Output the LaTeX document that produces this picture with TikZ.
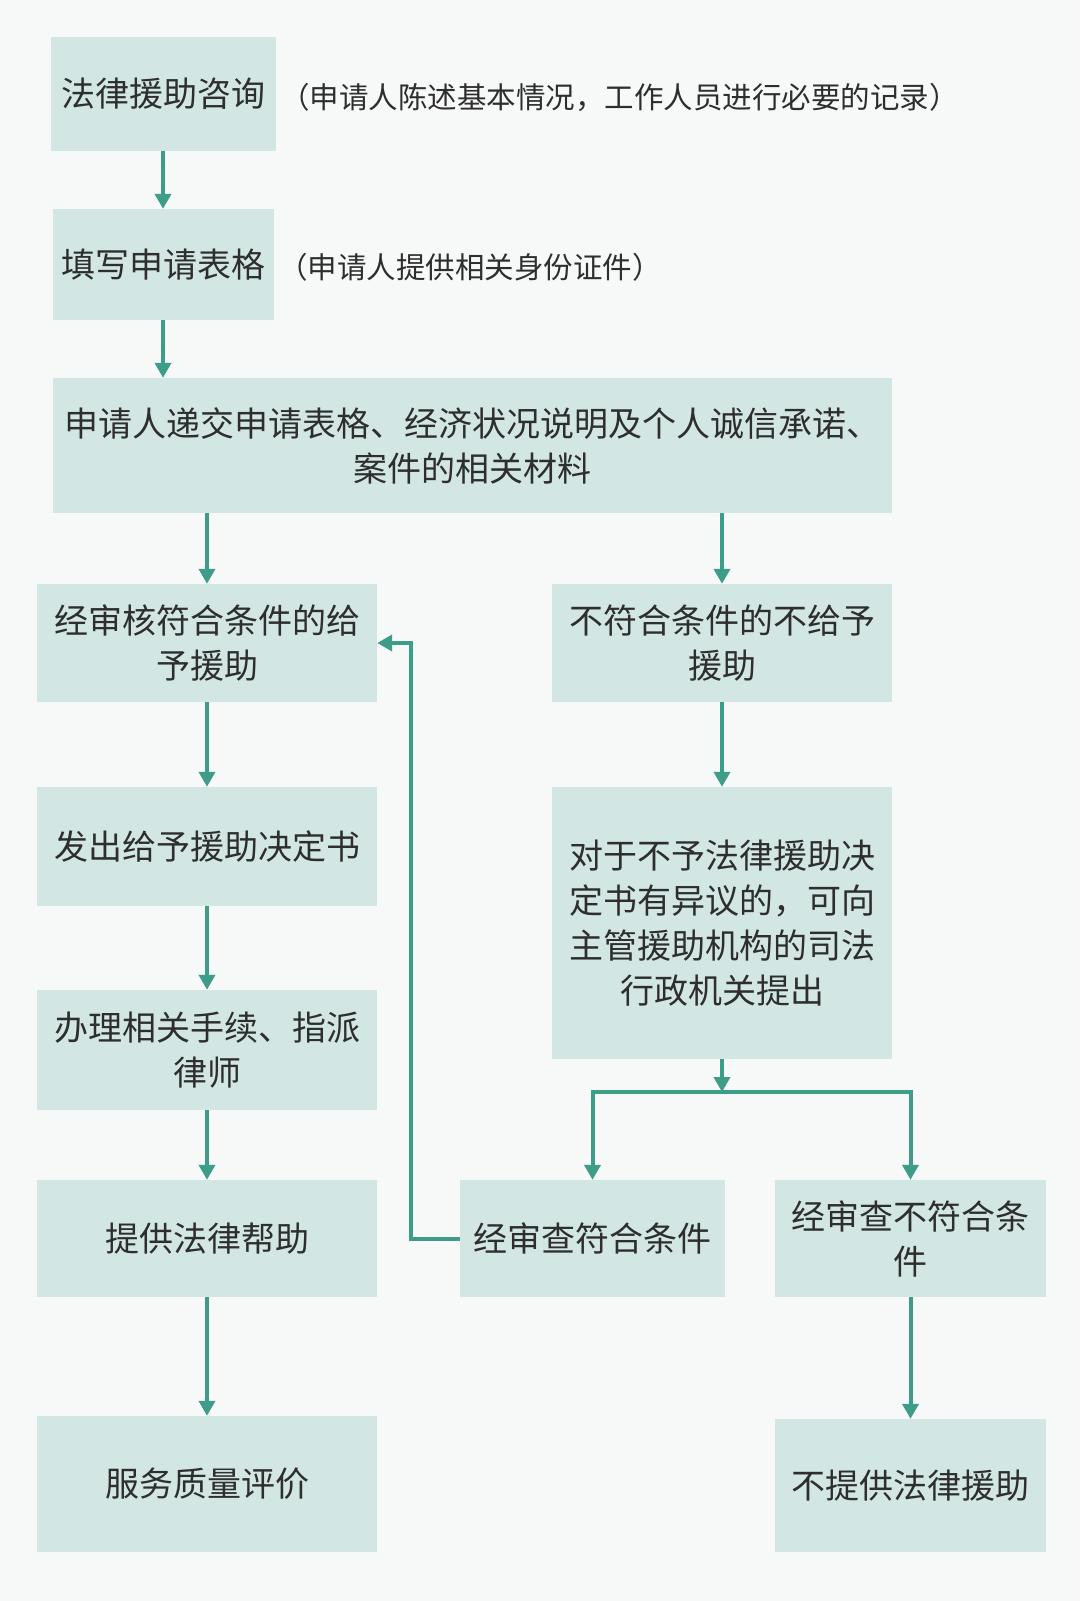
\documentclass[tikz,border=0pt]{standalone}
\usepackage{fontspec}
\setmainfont{Noto Sans CJK SC}
\usetikzlibrary{arrows.meta}
\definecolor{boxfill}{HTML}{D2E7E3}
\definecolor{arrowc}{HTML}{3E9D89}
\definecolor{txt}{HTML}{2E2E2E}
\definecolor{bg}{HTML}{F7F8F8}
\tikzset{
  box/.style={fill=boxfill, draw=none, inner sep=0pt, align=center, text=txt,
    font=\fontsize{34pt}{45pt}\selectfont},
  side/.style={inner sep=0pt, anchor=west, text=txt, font=\fontsize{29.5pt}{34pt}\selectfont},
  conn/.style={draw=arrowc, line width=4pt},
  arr/.style={conn, -{Triangle[width=16pt,length=15pt]}},
}
\begin{document}
\begin{tikzpicture}[x=1pt,y=-1pt]
\fill[bg] (0,0) rectangle (1080,1601);
\useasboundingbox (0,0) rectangle (1080,1601);

\node[box, minimum width=225pt, minimum height=114pt] (A) at (163,94) {法律援助咨询};
\node[side] (sa) at (280,97) {（申请人陈述基本情况，工作人员进行必要的记录）};
\node[box, minimum width=221pt, minimum height=111pt] (B) at (163,264.5) {填写申请表格};
\node[side] (sb) at (278,267) {（申请人提供相关身份证件）};
\node[box, minimum width=839pt, minimum height=135pt] (C) at (472.5,445.5) {申请人递交申请表格、经济状况说明及个人诚信承诺、\\案件的相关材料};
\node[box, minimum width=340pt, minimum height=118pt] (D) at (207,643) {经审核符合条件的给\\予援助};
\node[box, minimum width=340pt, minimum height=118pt] (E) at (722,643) {不符合条件的不给予\\援助};
\node[box, minimum width=340pt, minimum height=119pt] (F) at (207,846.5) {发出给予援助决定书};
\node[box, minimum width=340pt, minimum height=120pt] (G) at (207,1050) {办理相关手续、指派\\律师};
\node[box, minimum width=340pt, minimum height=117pt] (H) at (207,1238.5) {提供法律帮助};
\node[box, minimum width=340pt, minimum height=136pt] (I) at (207,1484) {服务质量评价};
\node[box, minimum width=340pt, minimum height=272pt] (J) at (722,923) {对于不予法律援助决\\定书有异议的，可向\\主管援助机构的司法\\行政机关提出};
\node[box, minimum width=265pt, minimum height=117pt] (K) at (592.5,1238.5) {经审查符合条件};
\node[box, minimum width=271pt, minimum height=117pt] (L) at (910.5,1238.5) {经审查不符合条\\件};
\node[box, minimum width=271pt, minimum height=133pt] (M) at (910.5,1485.5) {不提供法律援助};

\coordinate (jn) at (722,1092);
\coordinate (jl) at (592.5,1092);
\coordinate (jr) at (910.5,1092);
\coordinate (fb) at (411,1238.5);

\draw[arr] (A) -- (B);
\draw[arr] (B.south) -- (B.south |- C.north);
\draw[arr] (C.south -| D) -- (D.north);
\draw[arr] (C.south -| E) -- (E.north);
\draw[arr] (D) -- (F);
\draw[arr] (F) -- (G);
\draw[arr] (G) -- (H);
\draw[arr] (H) -- (I);
\draw[arr] (E) -- (J);
\draw[arr] (J.south) -- (jn);
\draw[conn, line cap=rect] (jl) -- (jr);
\draw[arr] (jl) -- (K.north);
\draw[arr] (jr) -- (L.north);
\draw[arr] (L) -- (M);
\draw[arr] (K.west) -- (fb) |- (D.east);
\end{tikzpicture}
\end{document}
